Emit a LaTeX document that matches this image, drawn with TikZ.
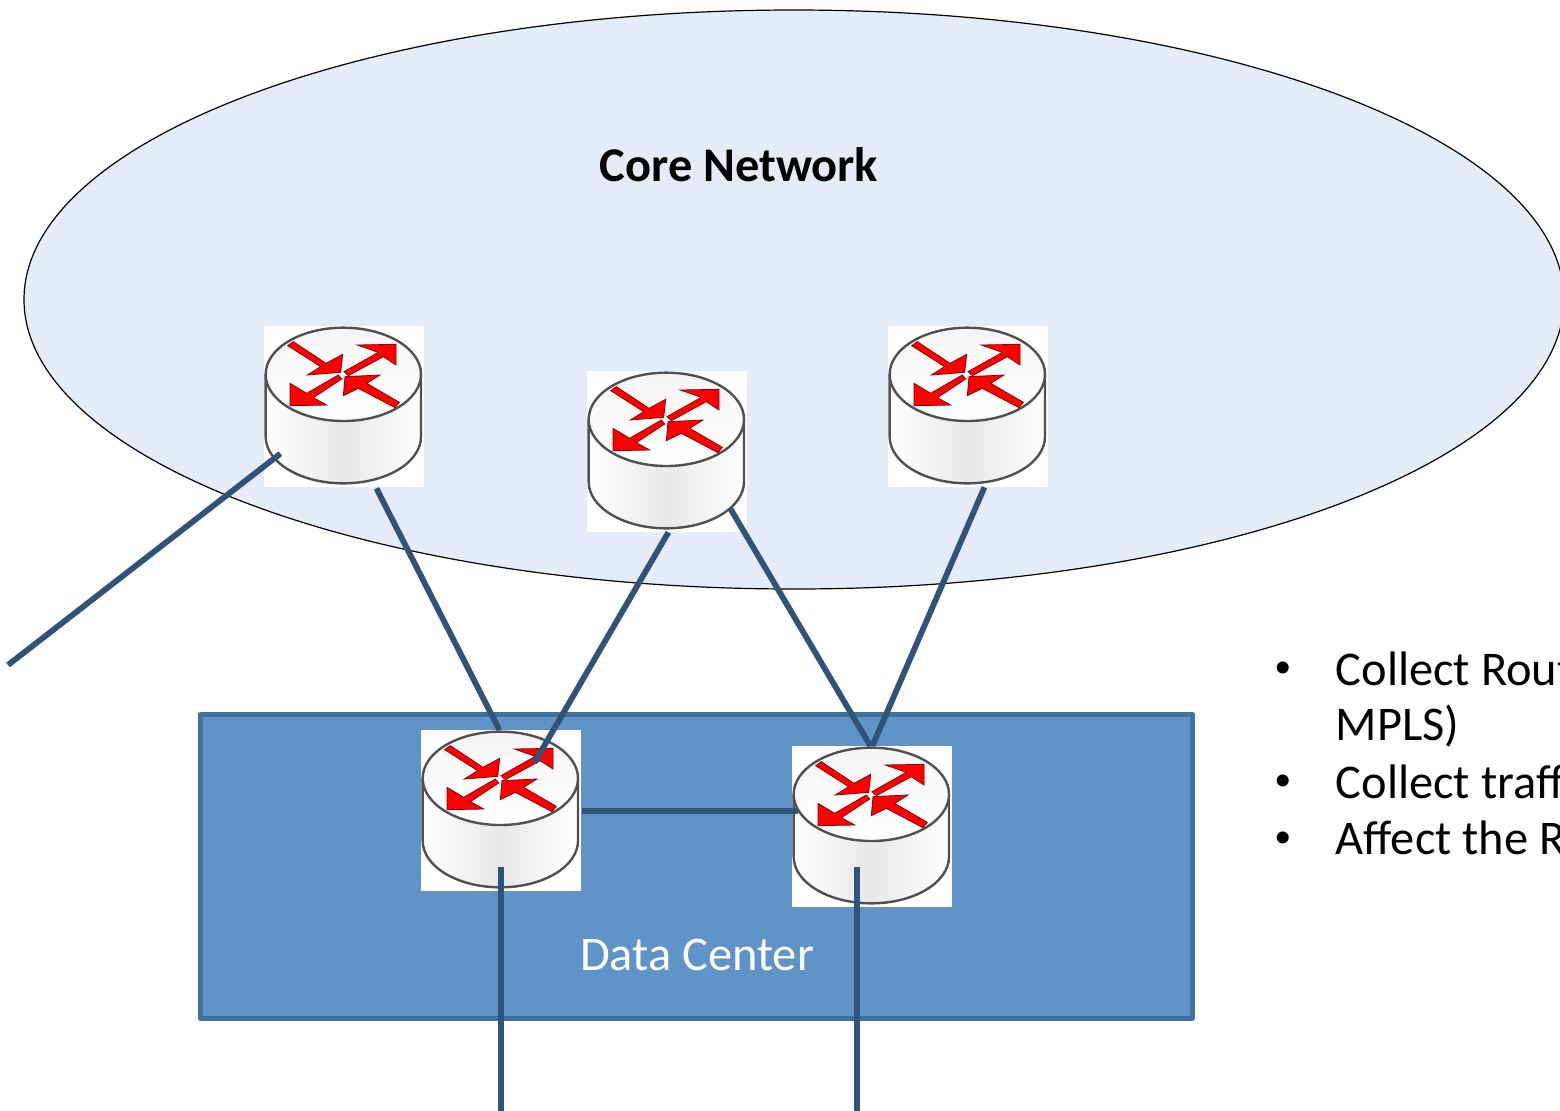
\documentclass[tikz,border=0pt]{standalone}
\usepackage{fontspec}
\setmainfont{Carlito}
\usetikzlibrary{calc,shapes.geometric}
\definecolor{corefill}{HTML}{E6ECF7}
\definecolor{dcfill}{HTML}{6094C9}
\definecolor{dcline}{HTML}{41719C}
\definecolor{linkcol}{HTML}{2F5379}
\definecolor{routeredge}{HTML}{505050}
\tikzset{
  x=0.5pt,y=-0.5pt,
  link/.style={draw=linkcol,line width=2.9pt},
  routerbox/.style={fill=white,draw=none,inner sep=0pt,minimum width=80pt,minimum height=80.25pt,anchor=north west},
  txt/.style={font=\fontsize{24.2}{28}\selectfont,inner sep=0pt,anchor=base west,text=black},
  bul/.style={font=\fontsize{17}{20}\selectfont,inner sep=0pt,anchor=base west,text=black},
  redarrow/.style={fill=red,draw=red!55!black,line width=0.4pt,line join=miter},
  routericon/.pic={
    \begin{scope}[x=0.16667pt,y=-0.16667pt,shift={(-42,-33)}]
      \path[left color=white,right color=white,middle color=black!9]
        (47,178) -- (47,365) arc[start angle=180,end angle=0,x radius=233,y radius=140] -- (513,178) -- cycle;
      \draw[routeredge,line width=1.2pt]
        (47,178) -- (47,365) arc[start angle=180,end angle=0,x radius=233,y radius=140] -- (513,178);
      \draw[routeredge,line width=1.2pt,top color=black!4,bottom color=white] (280,178) ellipse[x radius=233,y radius=140];
      \path[redarrow] (113,92) -- (130,80) -- (228,145) -- (278,118) -- (272,172) -- (172,180) -- (212,155) -- cycle;
      \path[redarrow] (282,170) -- (385,112) -- (322,90) -- (438,88) -- (438,150) -- (400,125) -- (295,182) -- cycle;
      \path[redarrow] (265,180) -- (170,235) -- (120,205) -- (120,272) -- (230,270) -- (190,248) -- (275,192) -- cycle;
      \path[redarrow] (448,262) -- (350,205) -- (390,180) -- (285,185) -- (280,242) -- (325,220) -- (435,278) -- cycle;
    \end{scope}
  }
}
\begin{document}
\begin{tikzpicture}
\clip (0,0) rectangle (1560,1110);
\fill[white] (0,0) rectangle (1560,1110);
\node[draw=black,line width=0.6pt,fill=corefill,ellipse,inner sep=0pt,minimum width=770pt,minimum height=289.5pt] (core) at (794,299.5) {};
\node[draw=dcline,line width=2.5pt,line join=round,fill=dcfill,inner sep=0pt,minimum width=496pt,minimum height=152pt] (dc) at (696,866) {};
\node[font=\fontsize{24.2}{28}\selectfont\bfseries,inner sep=0pt] (corelabel) at (739,165) {Core Network};
\node[font=\fontsize{24.2}{28}\selectfont,text=white,inner sep=0pt] (dclabel) at (697,955) {Data Center};

\node[routerbox] (r1) at (264,326) {};
\node[routerbox] (r2) at (587,371) {};
\node[routerbox] (r3) at (888,326) {};
\node[routerbox] (r4) at (421,730) {};
\node[routerbox] (r5) at (792,746) {};
\foreach \r in {r1,r2,r3,r4,r5}{\pic at (\r.north west) {routericon};}

\coordinate (free0) at (8,665);
\coordinate (free4) at (501,1112);
\coordinate (free5) at (857,1112);

\draw[link] ($(r1.center)+(-64,47)$) -- (free0);
\draw[link] ($(r1.south)+(32,1)$) -- ($(r4.north)+(-2,0)$);
\draw[link] ($(r2.south)+(1,0)$) -- ($(r4.center)+(33,-48)$);
\draw[link] ($(r2.center)+(63,57)$) -- ($(r5.north)+(-2,0)$);
\draw[link] ($(r3.south)+(16,0)$) -- ($(r5.north)$);
\draw[link] (r4.east) -- (r4.east -| {$(r5.center)+(-74,0)$});
\draw[link] (free4 |- {$(r4.center)+(0,56)$}) -- (free4);
\draw[link] (free5 |- {$(r5.center)+(0,40)$}) -- (free5);

\node[bul] (b1) at (1274,677) {•};
\node[txt] (t1) at (1335.5,685) {Collect Rout};
\node[txt] (t2) at (1335.5,740) {MPLS)};
\node[bul] (b2) at (1274,790) {•};
\node[txt] (t3) at (1335.5,798) {Collect traff};
\node[bul] (b3) at (1274,847) {•};
\node[txt] (t4) at (1335.5,854) {Affect the R};
\end{tikzpicture}
\end{document}
